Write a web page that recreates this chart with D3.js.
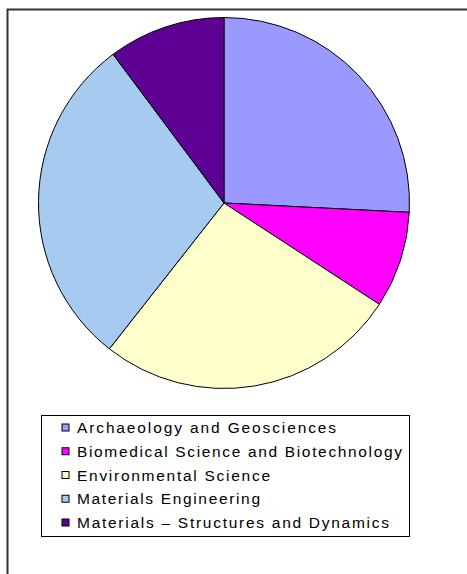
<!DOCTYPE html>
<html>
<head>
<meta charset="utf-8">
<script src="https://cdn.jsdelivr.net/npm/d3@7"></script>
<style>
  html, body { margin: 0; padding: 0; background: #fff; }
  svg { display: block; }
</style>
</head>
<body>
<svg id="chart" width="467" height="574"></svg>
<script>
// Research themes and their share of the total
const categories = [
  "Archaeology and Geosciences",
  "Biomedical Science and Biotechnology",
  "Environmental Science",
  "Materials Engineering",
  "Materials \u2013 Structures and Dynamics"
];
const values = [25.8, 8.4, 26.4, 29.2, 10.2];
const colors = ["#9999FF", "#FF00FF", "#FFFFCC", "#A6CAF0", "#5E0094"];
const legendWidths = [259, 325, 193, 183, 312];

const svg = d3.select("#chart");

// outer chart frame (runs off the right and bottom edges)
svg.append("rect")
  .attr("x", 7.5).attr("y", 9.5)
  .attr("width", 480).attr("height", 590)
  .attr("fill", "#fff")
  .attr("stroke", "#333").attr("stroke-width", 2);

const cx = 224, cy = 203, r = 185.5;

const pie = d3.pie().sort(null).value(d => d.value);
const arc = d3.arc().innerRadius(0).outerRadius(r);
const data = categories.map((c, i) => ({ name: c, value: values[i], color: colors[i] }));

svg.append("g")
  .attr("transform", `translate(${cx},${cy})`)
  .selectAll("path")
  .data(pie(data))
  .join("path")
  .attr("d", arc)
  .attr("fill", d => d.data.color)
  .attr("stroke", "#000")
  .attr("stroke-width", 1)
  .attr("stroke-linejoin", "round");

// legend
const lg = svg.append("g");
lg.append("rect")
  .attr("x", 41.5).attr("y", 415.5)
  .attr("width", 368).attr("height", 121)
  .attr("fill", "#fff")
  .attr("stroke", "#000").attr("stroke-width", 1);

const rowY = d3.scaleLinear().domain([0, 4]).range([427.5, 522.5]);

const rows = lg.selectAll("g.row")
  .data(data)
  .join("g")
  .attr("class", "row")
  .attr("transform", (d, i) => `translate(0,${rowY(i)})`);

rows.append("rect")
  .attr("x", 62).attr("y", -3.5)
  .attr("width", 7).attr("height", 7)
  .attr("fill", d => d.color)
  .attr("stroke", "#000").attr("stroke-width", 1);

rows.append("text")
  .attr("x", 77).attr("y", 5.5)
  .attr("font-family", "Liberation Sans, Arial, sans-serif")
  .attr("font-size", 15.5)
  .attr("fill", "#000")
  .attr("textLength", (d, i) => legendWidths[i])
  .attr("lengthAdjust", "spacing")
  .text(d => d.name);
</script>
</body>
</html>
